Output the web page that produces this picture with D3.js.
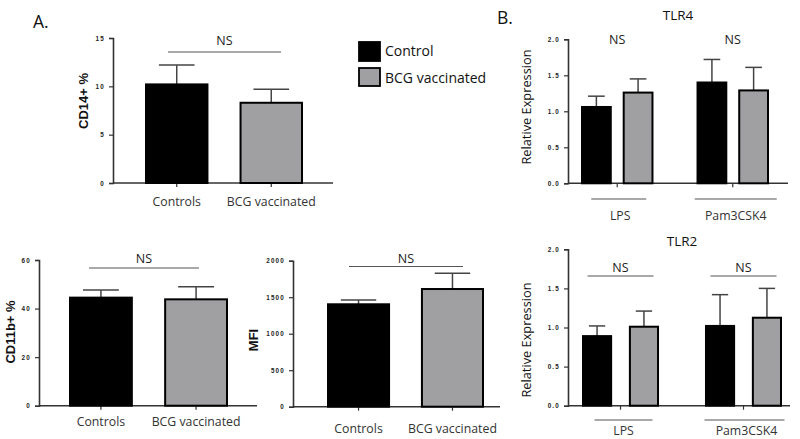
<!DOCTYPE html>
<html><head><meta charset="utf-8">
<script src="https://cdn.jsdelivr.net/npm/d3@7"></script>
<style>
body{margin:0;background:#fff;}
svg{display:block;}
</style></head>
<body>
<svg id="c" width="800" height="439"></svg>
<script>
// ---- data ----
const groupsA = ["Controls", "BCG vaccinated"];
const seriesNames = ["Control", "BCG vaccinated"];
const cd14Mean = [10.2, 8.3];
const cd14Err = [2.0, 1.4];
const cd11bMean = [44.5, 43.8];
const cd11bErr = [3.1, 5.2];
const mfiMean = [1403, 1612];
const mfiErr = [58, 215];
const stimGroups = ["LPS", "Pam3CSK4"];
const tlr4Mean = [[1.06, 1.26], [1.40, 1.29]];
const tlr4Err = [[0.15, 0.19], [0.32, 0.32]];
const tlr2Mean = [[0.89, 1.01], [1.02, 1.125]];
const tlr2Err = [[0.13, 0.20], [0.40, 0.375]];
const cd14Ticks = [0, 5, 10, 15];
const cd11bTicks = [0, 20, 40, 60];
const mfiTicks = [0, 500, 1000, 1500, 2000];
const tlrTicks = [0, 0.5, 1.0, 1.5, 2.0];

const colors = ["#000000", "#a0a0a3"];
const svg = d3.select("#c");
const sans = "'Open Sans', 'Noto Sans', sans-serif";

function yAxisDraw(g, y, x, ticks, fmt) {
  const ax = g.append("g").attr("transform", `translate(${x},0)`)
    .call(d3.axisLeft(y).tickValues(ticks).tickSize(4).tickPadding(4).tickFormat(fmt));
  ax.select(".domain").attr("stroke", "#333").attr("stroke-width", 1.6);
  ax.selectAll(".tick line").attr("stroke", "#333").attr("stroke-width", 1.2);
  ax.selectAll(".tick text").attr("font-family", "Arial, 'Liberation Sans', sans-serif")
    .attr("font-size", 6.3).attr("font-weight", "bold").attr("letter-spacing", 1.2).attr("fill", "#222");
}

function baseLine(g, x0, x1, y0) {
  g.append("line").attr("x1", x0).attr("x2", x1).attr("y1", y0).attr("y2", y0)
    .attr("stroke", "#333").attr("stroke-width", 1.6);
}

function xTicks(g, centers, y0) {
  g.selectAll(null).data(centers).enter().append("line")
    .attr("x1", d => d).attr("x2", d => d).attr("y1", y0).attr("y2", y0 + 4)
    .attr("stroke", "#333").attr("stroke-width", 1.2);
}

function bar(g, x, w, y, val, err, fill) {
  const cx = x + w / 2, capW = w * 0.58;
  g.append("line").attr("x1", cx).attr("x2", cx).attr("y1", y(val)).attr("y2", y(val + err))
    .attr("stroke", "#444").attr("stroke-width", 1.5);
  g.append("line").attr("x1", cx - capW / 2).attr("x2", cx + capW / 2)
    .attr("y1", y(val + err)).attr("y2", y(val + err))
    .attr("stroke", "#444").attr("stroke-width", 1.5);
  g.append("rect").attr("x", x).attr("y", y(val)).attr("width", w)
    .attr("height", y(0) - y(val)).attr("fill", fill).attr("stroke", "#000").attr("stroke-width", 2);
}

function nsMark(g, x1, x2, yLine, yText, withLine) {
  if (withLine) g.append("line").attr("x1", x1).attr("x2", x2).attr("y1", yLine).attr("y2", yLine)
    .attr("stroke", "#555").attr("stroke-width", 1.1);
  g.append("text").attr("x", (x1 + x2) / 2).attr("y", yText).attr("text-anchor", "middle")
    .attr("font-family", sans).attr("font-size", 12.5).attr("fill", "#222").text("NS");
}

function yLabel(g, x, y, txt, bold, size) {
  g.append("text").attr("transform", `translate(${x},${y}) rotate(-90)`).attr("text-anchor", "middle")
    .attr("font-family", bold ? "Arial, 'Liberation Sans', sans-serif" : sans)
    .attr("font-weight", bold ? "bold" : "normal").attr("font-size", size).attr("fill", "#111").text(txt);
}

// simple two-bar panel
function panelA(p, means, errs, ticks, label, fmt) {
  const g = svg.append("g");
  const y = d3.scaleLinear().domain([ticks[0], ticks[ticks.length - 1]]).range([p.y0, p.yTop]);
  const x = d3.scaleBand().domain(groupsA).range([p.b0, p.b1]).paddingInner(0.35);
  baseLine(g, p.ax, p.axEnd, p.y0);
  xTicks(g, groupsA.map(d => x(d) + x.bandwidth() / 2), p.y0);
  groupsA.forEach((d, i) => bar(g, x(d), x.bandwidth(), y, means[i], errs[i], colors[i]));
  yAxisDraw(g, y, p.ax, ticks, fmt);
  nsMark(g, p.ns0, p.ns1, p.nsY, p.nsTextY, true);
  g.selectAll(null).data(groupsA).enter().append("text")
    .attr("x", d => x(d) + x.bandwidth() / 2).attr("y", p.labY).attr("text-anchor", "middle")
    .attr("font-family", sans).attr("font-size", 12.3).attr("fill", "#333").text(d => d);
  yLabel(g, p.labX, p.labYc, label, true, 13);
}

panelA({ax: 113, axEnd: 333, y0: 183, yTop: 38, b0: 146, b1: 302, ns0: 168, ns1: 281, nsY: 52, nsTextY: 45, labY: 206, labX: 88, labYc: 101},
  cd14Mean, cd14Err, cd14Ticks, "CD14+ %", d3.format("d"));
panelA({ax: 39, axEnd: 257, y0: 405.7, yTop: 260, b0: 70, b1: 227, ns0: 89, ns1: 199, nsY: 268, nsTextY: 263, labY: 426, labX: 15, labYc: 332},
  cd11bMean, cd11bErr, cd11bTicks, "CD11b+ %", d3.format("d"));
panelA({ax: 293, axEnd: 500, y0: 406.7, yTop: 260.7, b0: 328, b1: 483, ns0: 349, ns1: 463, nsY: 266.5, nsTextY: 263, labY: 433, labX: 258, labYc: 340},
  mfiMean, mfiErr, mfiTicks, "MFI", d3.format("d"));

// grouped panels
function panelB(p, means, errs, title) {
  const g = svg.append("g");
  const y = d3.scaleLinear().domain([0, 2]).range([p.y0, p.yTop]);
  const x = d3.scaleBand().domain(stimGroups).range([p.b0, p.b1]).paddingInner(p.pad);
  const xi = d3.scaleBand().domain(seriesNames).range([0, x.bandwidth()]).paddingInner(p.padIn);
  baseLine(g, p.ax, p.axEnd, p.y0);
  xTicks(g, stimGroups.map(d => x(d) + x.bandwidth() / 2), p.y0);
  stimGroups.forEach((gName, gi) => {
    seriesNames.forEach((s, si) => bar(g, x(gName) + xi(s), xi.bandwidth(), y, means[gi][si], errs[gi][si], colors[si]));
    const c = x(gName) + x.bandwidth() / 2;
    nsMark(g, c - p.nsHalf, c + p.nsHalf, p.nsY, p.nsTextY, p.nsLine);
    g.append("line").attr("x1", c + p.ul[gi][0]).attr("x2", c + p.ul[gi][1]).attr("y1", p.ulY).attr("y2", p.ulY)
      .attr("stroke", "#555").attr("stroke-width", 1.1);
    g.append("text").attr("x", c + 3).attr("y", p.labY).attr("text-anchor", "middle")
      .attr("font-family", sans).attr("font-size", 12.3).attr("fill", "#333").text(gName);
  });
  yAxisDraw(g, y, p.ax, tlrTicks, d3.format(".1f"));
  g.append("text").attr("x", p.titleX).attr("y", p.titleY).attr("text-anchor", "middle")
    .attr("font-family", sans).attr("font-size", 13.5).attr("fill", "#111").text(title);
  yLabel(g, 531, p.labYc, "Relative Expression", false, 12.8);
}

panelB({ax: 568, axEnd: 788, y0: 183.3, yTop: 39.3, b0: 582, b1: 768, pad: 0.39, padIn: 0.31,
  nsHalf: 28, nsY: 0, nsTextY: 44, nsLine: false, ul: [[-26, 29], [-38, 44]], ulY: 199, labY: 220,
  titleX: 678, titleY: 20, labYc: 107}, tlr4Mean, tlr4Err, "TLR4");
panelB({ax: 568, axEnd: 790, y0: 405.7, yTop: 249.3, b0: 583, b1: 781, pad: 0.39, padIn: 0.4,
  nsHalf: 33, nsY: 276, nsTextY: 272, nsLine: true, ul: [[-26, 32], [-39, 41]], ulY: 420, labY: 434.5,
  titleX: 682, titleY: 246, labYc: 340}, tlr2Mean, tlr2Err, "TLR2");

// panel letters
svg.append("text").attr("x", 33).attr("y", 28).attr("font-family", sans).attr("font-size", 17.5).attr("fill", "#111").text("A.");
svg.append("text").attr("x", 497).attr("y", 24).attr("font-family", sans).attr("font-size", 17.5).attr("fill", "#111").text("B.");

// legend
const leg = svg.append("g");
seriesNames.forEach((s, i) => {
  leg.append("rect").attr("x", 359).attr("y", 42 + i * 26).attr("width", 21).attr("height", i ? 18 : 19)
    .attr("fill", colors[i]).attr("stroke", "#000").attr("stroke-width", 1.8);
  leg.append("text").attr("x", 385).attr("y", 56 + i * 27).attr("font-family", sans).attr("font-size", 14)
    .attr("fill", "#111").text(s);
});
</script>
</body></html>
